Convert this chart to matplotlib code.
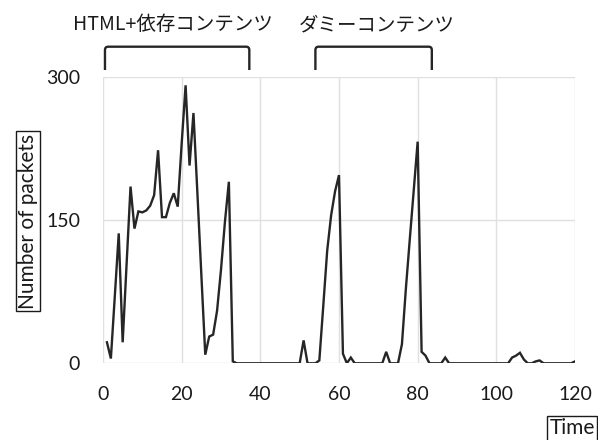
import numpy as np
import matplotlib
matplotlib.use("Agg")
import matplotlib.pyplot as plt
from matplotlib.path import Path
from matplotlib.patches import PathPatch
import matplotlib.transforms as mtransforms

plt.rcParams['font.family'] = ['Lato', 'Noto Sans CJK JP', 'DejaVu Sans']

time = np.arange(1, 121)
packets = [
    22, 5, 70, 136, 22, 104, 185, 141, 159, 158,
    160, 165, 176, 223, 153, 153, 168, 178, 164, 230,
    291, 207, 262, 178, 93, 9, 28, 30, 55, 98,
    148, 190, 2, 0, 0, 0, 0, 0, 0, 0,
    0, 0, 0, 0, 0, 0, 0, 0, 0, 0,
    24, 0, 0, 0, 3, 60, 118, 155, 180, 197,
    10, 0, 6, 0, 0, 0, 0, 0, 0, 0,
    0, 12, 0, 0, 0, 20, 78, 130, 181, 232,
    12, 8, 0, 0, 0, 0, 6, 0, 0, 0,
    0, 0, 0, 0, 0, 0, 0, 0, 0, 0,
    0, 0, 0, 6, 8, 11, 4, 0, 0, 2,
    3, 0, 0, 0, 0, 0, 0, 0, 0, 2,
]
x_ticks = [0, 20, 40, 60, 80, 100, 120]
y_ticks = [0, 150, 300]
brackets = [("HTML+依存コンテンツ", 0.5, 37.2, 17.9), ("ダミーコンテンツ", 54.0, 83.6, 69.5)]

fig = plt.figure(figsize=(5.98, 4.40), dpi=100)
ax = fig.add_axes([103 / 598, 1 - 363.3 / 440, (575 - 103) / 598, 286.6 / 440])

ax.plot(time, packets, color='#262626', lw=1.7, solid_joinstyle='miter', zorder=3)
ax.set_xlim(0, 120)
ax.set_ylim(0, 300)
ax.set_xticks(x_ticks)
ax.set_yticks(y_ticks)
ax.grid(True, color='#e0e0e0', lw=1.0)
for s in ax.spines.values():
    s.set_visible(False)
ax.tick_params(length=0, labelsize=14, colors='#1a1a1a')
ax.tick_params(axis='y', pad=16.5)
ax.tick_params(axis='x', pad=16)

trans = mtransforms.blended_transform_factory(ax.transData, ax.transAxes)
y_top = (363.3 - 46.7) / 286.6
y_bot = (363.3 - 70.0) / 286.6
for label, x0, x1, xc in brackets:
    r = 0.8
    ry = 0.012
    verts = [(x0, y_bot), (x0, y_top - ry), (x0, y_top), (x0 + r, y_top),
             (x1 - r, y_top), (x1, y_top), (x1, y_top - ry), (x1, y_bot)]
    codes = [Path.MOVETO, Path.LINETO, Path.CURVE3, Path.CURVE3,
             Path.LINETO, Path.CURVE3, Path.CURVE3, Path.LINETO]
    ax.add_patch(PathPatch(Path(verts, codes), transform=trans, fill=False,
                           lw=1.7, edgecolor='#262626', clip_on=False))
    ax.text(xc, (363.3 - 25) / 286.6, label, transform=trans, ha='center', va='center',
            fontsize=14, color='#1a1a1a', family=['Noto Sans CJK JP', 'DejaVu Sans'])

fig.text(28.0 / 598, 1 - 221 / 440, "Number of packets", rotation=90, ha='center', va='center',
         fontsize=15, color='#1a1a1a',
         bbox=dict(boxstyle='square,pad=0.1', fc='white', ec='#1a1a1a', lw=1.0))
fig.text(572 / 598, 1 - 428 / 440, "Time", ha='center', va='center', fontsize=15, color='#1a1a1a',
         bbox=dict(boxstyle='square,pad=0.12', fc='white', ec='#1a1a1a', lw=1.0))

fig.savefig("out.png", dpi=100)
